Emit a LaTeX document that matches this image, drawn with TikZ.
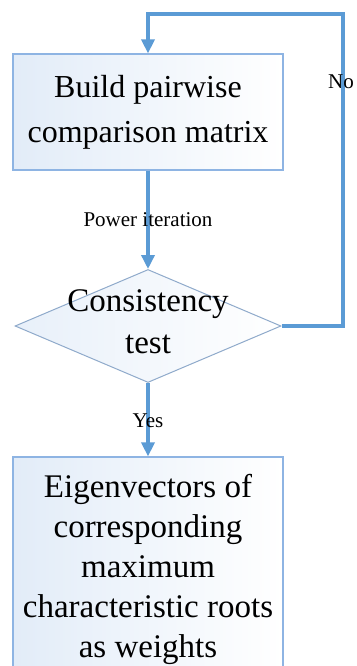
\documentclass[tikz,border=0pt]{standalone}
\usepackage{fontspec}
\setmainfont{Liberation Serif}
\usetikzlibrary{arrows.meta,shapes.geometric}
\definecolor{linkblue}{HTML}{5B9BD5}
\definecolor{boxedge}{HTML}{8EB4E3}
\definecolor{diaedge}{HTML}{8FAACB}
\definecolor{boxfill}{HTML}{E2ECF8}
\begin{document}
\begin{tikzpicture}[x=1pt,y=-1pt,
  box/.style={draw=boxedge,line width=1.2pt,left color=boxfill,right color=white,
    minimum width=270pt,inner sep=0pt,align=center},
  dia/.style={diamond,draw=diaedge,line width=1pt,left color=boxfill!80,right color=white,
    minimum width=266pt,minimum height=113pt,inner sep=0pt,aspect=2.354},
  link/.style={draw=linkblue,line width=3.4pt,-{Triangle[length=14pt,width=13pt]}},
  lab/.style={font=\fontsize{21}{24}\selectfont,inner sep=0pt}]
\useasboundingbox (0,0) rectangle (356,666);
\fill[white] (0,0) rectangle (356,666);
\node[box,minimum height=116pt,font=\fontsize{32}{45}\selectfont] (build) at (148,112)
  {Build pairwise\\comparison matrix};
\node[dia] (test) at (148,326) {};
\node[align=center,inner sep=0pt,font=\fontsize{33}{42}\selectfont] (testtxt) at (148,322) {Consistency\\test};
\node[box,minimum height=224pt,font=\fontsize{33}{40}\selectfont] (eig) at (148,569)
  {Eigenvectors of\\corresponding\\maximum\\characteristic roots\\as weights};
\coordinate (c1) at (343,326);
\coordinate (c2) at (343,14);
\coordinate (c3) at (148,14);
\draw[link] (build.south) -- (test.north);
\draw[link] (test.south) -- (eig.north);
\draw[link] (test.east) -- (c1) -- (c2) -- (c3) -- (build.north);
\node[lab] (pw) at (148,220) {Power iteration};
\node[lab] (yes) at (148,421) {Yes};
\node[lab,anchor=west] (no) at (328,82) {No};
\end{tikzpicture}
\end{document}
